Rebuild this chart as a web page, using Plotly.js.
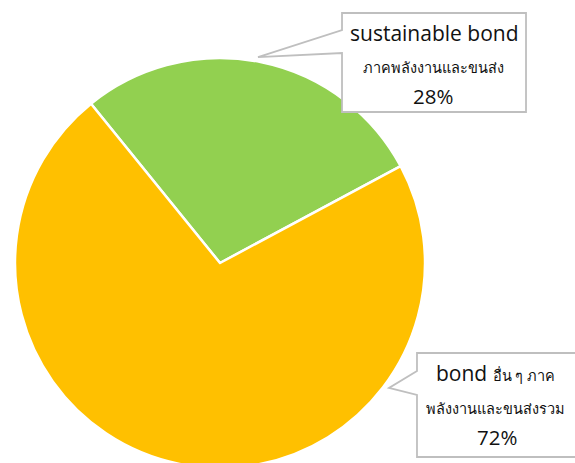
<!DOCTYPE html>
<html>
<head>
<meta charset="utf-8">
<script src="https://cdn.plot.ly/plotly-3.0.1.min.js"></script>
<style>html,body{margin:0;padding:0;overflow:hidden;background:#fff;}#chart{width:575px;height:480px;}</style>
</head>
<body>
<div id="chart"></div>
<script>
var labels = ["sustainable bond ภาคพลังงานและขนส่ง", "bond อื่น ๆ ภาคพลังงานและขนส่งรวม"];
var values = [28, 72];
var colors = ["#92D050", "#FFC000"];
var pctLabels = ["28%", "72%"];

var W = 575, H = 480;
function px(x){ return x / W; }
function py(y){ return 1 - y / H; }
function pathOf(pts){
  return pts.map(function(p, i){ return (i ? "L" : "M") + px(p[0]).toFixed(4) + "," + py(p[1]).toFixed(4); }).join(" ") + " Z";
}

var FONT = "'Open Sans', 'Liberation Sans', 'Noto Sans', sans-serif";

var trace = {
  type: "pie",
  labels: labels,
  values: values,
  marker: {colors: colors, line: {color: "#FFFFFF", width: 2.5}},
  sort: false,
  direction: "clockwise",
  rotation: -39,
  textinfo: "none",
  hoverinfo: "label+percent",
  domain: {x: [px(15), px(425)], y: [py(468), py(58)]},
  showlegend: false
};

var box1 = [[342,13],[526,13],[526,112],[342,112],[342,53],[258,57],[342,30]];
var box2 = [[417,353],[590,353],[590,457],[417,457],[417,395],[389,388],[417,371]];

var shapes = [box1, box2].map(function(b){
  return {type: "path", xref: "paper", yref: "paper", path: pathOf(b),
          fillcolor: "#FFFFFF", line: {color: "#BFBFBF", width: 1.8}, layer: "above"};
});

function ann(x, y, text, size){
  return {xref: "paper", yref: "paper", x: px(x), y: py(y), xanchor: "center", yanchor: "middle",
          text: text, showarrow: false, font: {family: FONT, size: size, color: "#111111"}};
}

var annotations = [
  ann(434, 33, "sustainable bond", 21),
  ann(433, 68, "ภาคพลังงานและขนส่ง", 14.5),
  ann(433, 96, pctLabels[0], 20.5),
  ann(495, 373, "bond <span style='font-size:14.5px'>อื่น ๆ ภาค</span>", 21),
  ann(495, 408, "พลังงานและขนส่งรวม", 14.5),
  ann(497, 437, pctLabels[1], 20.5)
];

var layout = {
  width: W, height: H,
  margin: {l: 0, r: 0, t: 0, b: 0},
  paper_bgcolor: "#FFFFFF",
  shapes: shapes,
  annotations: annotations
};

Plotly.newPlot("chart", [trace], layout, {displayModeBar: false, staticPlot: true});
</script>
</body>
</html>
